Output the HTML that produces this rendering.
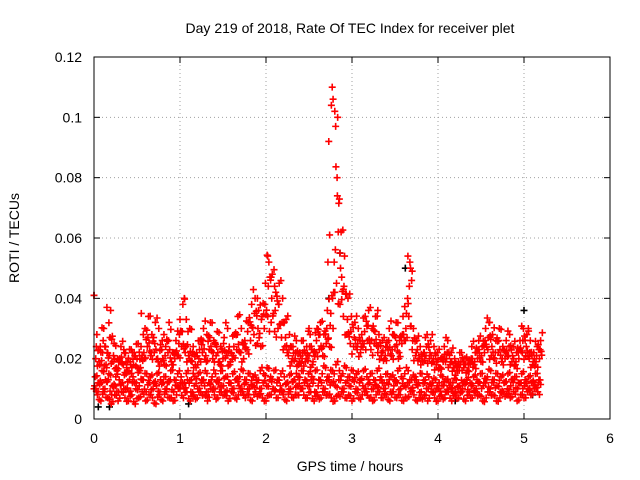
<!DOCTYPE html>
<html><head><meta charset="utf-8"><style>
body{margin:0;background:#fff;}
svg{display:block;font-family:"Liberation Sans",sans-serif;}
</style></head><body>
<svg id="chart" width="640" height="480" viewBox="0 0 640 480">
<rect width="640" height="480" fill="#fff"/>
<text x="350" y="33" font-size="14" text-anchor="middle">Day 219 of 2018, Rate Of TEC Index for receiver plet</text>
<text x="350" y="471" font-size="14" text-anchor="middle">GPS time / hours</text>
<text transform="translate(19,238) rotate(-90)" font-size="14" text-anchor="middle">ROTI / TECUs</text>
<g id="grid"></g><g id="ticks"></g><g id="marks"></g>
<rect x="94" y="57" width="516" height="362" fill="none" stroke="#000" stroke-width="1"/>
</svg>
<script>
const xTicks=[0,1,2,3,4,5,6];
const yTicks=[0,0.02,0.04,0.06,0.08,0.1,0.12];
const yTickLabels=["0","0.02","0.04","0.06","0.08","0.1","0.12"];
const step=0.04;
const lowVals=[.010,.008,.006,.009,.007,.005,.008,.006,.009,.007,.006,.008,.005,.007,.009,.006,.008,.007,.005,.008,.006,.009,.007,.006,.008,.010,.007,.009,.006,.008,.007,.009,.008,.006,.010,.008,.007,.009,.008,.006,.009,.007,.008,.010,.007,.008,.006,.009,.008,.007,.006,.008,.010,.007,.009,.008,.006,.009,.007,.008,.010,.008,.007,.009,.006,.008,.007,.009,.008,.007,.006,.008,.009,.007,.008,.006,.009,.007,.008,.010,.007,.006,.008,.009,.007,.008,.006,.009,.007,.008,.006,.007,.009,.008,.006,.007,.008,.006,.009,.007,.006,.008,.007,.009,.006,.008,.007,.009,.006,.008,.007,.009,.008,.006,.007,.009,.008,.006,.007,.009,.008,.007,.009,.006,.008,.007,.009,.008,.010,.009];
const lowMidVals=[.011,.009,.012,.010,.013,.008,.011,.009,.012,.010,.009,.012,.010,.011,.013,.009,.012,.010,.011,.009,.012,.010,.013,.009,.011,.012,.010,.013,.009,.011,.010,.012,.011,.009,.013,.010,.012,.011,.009,.012,.010,.013,.011,.009,.012,.010,.011,.013,.010,.012,.011,.013,.010,.012,.011,.009,.012,.010,.013,.011,.010,.012,.011,.013,.009,.011,.012,.010,.013,.012,.011,.013,.010,.012,.011,.013,.010,.012,.011,.009,.012,.010,.011,.013,.010,.012,.009,.011,.012,.010,.011,.012,.010,.013,.011,.009,.012,.010,.011,.009,.010,.011,.009,.012,.010,.009,.011,.010,.012,.009,.011,.010,.012,.011,.013,.010,.012,.011,.009,.012,.010,.011,.013,.010,.012,.011,.010,.012,.011,.012];
const midVals=[.014,.012,.016,.013,.015,.011,.014,.013,.012,.015,.013,.014,.012,.016,.013,.015,.014,.012,.015,.013,.014,.012,.016,.013,.015,.014,.012,.016,.013,.014,.015,.013,.016,.012,.014,.015,.013,.016,.014,.012,.015,.013,.014,.016,.013,.015,.014,.012,.016,.015,.017,.014,.016,.013,.015,.014,.012,.015,.013,.014,.016,.013,.015,.014,.016,.013,.015,.017,.014,.016,.018,.016,.015,.017,.014,.016,.015,.013,.016,.014,.015,.013,.016,.014,.012,.015,.014,.013,.016,.014,.015,.016,.013,.014,.012,.015,.013,.014,.012,.013,.012,.014,.013,.011,.012,.013,.011,.012,.013,.012,.014,.013,.015,.012,.014,.016,.013,.015,.014,.012,.015,.013,.014,.012,.015,.013,.014,.012,.015,.013];
const highVals=[.020,.019,.022,.018,.021,.019,.017,.020,.018,.017,.019,.018,.020,.017,.022,.024,.021,.022,.020,.019,.018,.022,.019,.020,.021,.024,.022,.021,.019,.018,.020,.022,.021,.023,.020,.021,.019,.020,.022,.018,.021,.023,.022,.020,.023,.026,.028,.025,.024,.030,.034,.032,.029,.030,.027,.024,.021,.019,.020,.018,.020,.019,.021,.018,.022,.023,.021,.025,.024,.030,.045,.038,.034,.028,.025,.024,.023,.022,.025,.026,.023,.025,.022,.021,.020,.023,.021,.024,.020,.025,.026,.034,.023,.021,.020,.019,.021,.020,.019,.018,.017,.019,.020,.018,.017,.016,.018,.017,.016,.019,.018,.020,.019,.022,.023,.021,.020,.022,.019,.020,.021,.019,.018,.020,.022,.021,.020,.018,.019,.020];
const midHighVals=[.024,.018,.026,.017,.027,.021,.016,.019,.023,.016,.018,.022,.017,.024,.020,.027,.022,.025,.019,.023,.021,.026,.018,.022,.025,.029,.024,.020,.022,.017,.023,.026,.019,.027,.022,.024,.018,.025,.021,.019,.024,.028,.022,.025,.029,.031,.035,.030,.033,.038,.044,.040,.036,.038,.032,.027,.023,.020,.022,.019,.022,.020,.024,.019,.026,.028,.024,.030,.031,.042,.080,.050,.044,.033,.029,.027,.025,.024,.029,.031,.026,.029,.024,.022,.021,.026,.023,.027,.022,.028,.030,.044,.026,.022,.020,.019,.024,.022,.020,.019,.017,.020,.022,.019,.017,.016,.019,.018,.016,.020,.019,.023,.021,.026,.027,.024,.022,.026,.020,.022,.024,.021,.019,.023,.026,.024,.022,.019,.021,.023];
const topVals=[.028,.024,.030,.022,.036,.025,.020,.024,.022,.019,.023,.021,.025,.020,.030,.034,.028,.032,.030,.026,.024,.032,.022,.026,.028,.038,.033,.030,.024,.022,.026,.030,.028,.032,.026,.029,.024,.027,.030,.022,.028,.034,.030,.026,.032,.038,.040,.036,.034,.045,.052,.048,.042,.045,.040,.033,.028,.024,.026,.022,.026,.024,.028,.022,.030,.032,.028,.036,.035,.052,.100,.062,.054,.040,.034,.032,.030,.028,.034,.036,.030,.034,.028,.026,.024,.030,.028,.032,.026,.034,.035,.052,.030,.026,.024,.022,.028,.026,.024,.022,.020,.024,.026,.022,.020,.018,.022,.020,.018,.024,.022,.026,.024,.030,.032,.028,.026,.030,.024,.026,.028,.024,.022,.026,.030,.028,.026,.022,.024,.026];
const spikeT=[2.73,2.76,2.77,2.78,2.80,2.81,2.83,2.84,2.86,2.88,2.90,2.74,2.72,3.65,3.68,3.70,2.02,2.06,0.0,1.05,2.10,2.15,0.15,0.55,1.0,1.9,2.5,3.3,4.6,5.05];
const spikeV=[.092,.104,.110,.106,.102,.097,.074,.062,.055,.047,.043,.061,.052,.054,.050,.049,.054,.047,.041,.040,.044,.038,.037,.035,.033,.040,.030,.036,.032,.030];
const blackT=[0.0,0.05,0.18,1.1,2.73,2.86,3.62,5.0,5.1,4.2];
const blackV=[.041,.004,.004,.005,.040,.055,.050,.036,.008,.006];

const NS="http://www.w3.org/2000/svg";
const X=t=>94+t*(516/6), Y=v=>419-v*(362/0.12);
const grid=document.getElementById('grid'),ticks=document.getElementById('ticks'),marks=document.getElementById('marks');
function mk(tag,attrs,parent){const e=document.createElementNS(NS,tag);for(const k in attrs)e.setAttribute(k,attrs[k]);parent.appendChild(e);return e;}
xTicks.forEach(t=>{
 if(t>0&&t<6){const g=mk('line',{x1:X(t),x2:X(t),y1:57,y2:419,stroke:'#a0a0a0','stroke-dasharray':'1,3'},grid);
 
 }
 const tl=mk('text',{x:X(t),y:443,'font-size':14,'text-anchor':'middle'},ticks);tl.textContent=t;
 
 
 mk('line',{x1:X(t),x2:X(t),y1:419,y2:413,stroke:'#000'},ticks);
 mk('line',{x1:X(t),x2:X(t),y1:57,y2:63,stroke:'#000'},ticks);
});
yTicks.forEach((v,i)=>{
 if(i>0&&i<yTicks.length-1){const g=mk('line',{x1:94,x2:610,y1:Y(v),y2:Y(v),stroke:'#a0a0a0','stroke-dasharray':'1,3'},grid);
 
 }
 const tl=mk('text',{x:82,y:Y(v)+5,'font-size':14,'text-anchor':'end'},ticks);tl.textContent=yTickLabels[i];
 
 
 mk('line',{x1:94,x2:100,y1:Y(v),y2:Y(v),stroke:'#000'},ticks);
 mk('line',{x1:610,x2:604,y1:Y(v),y2:Y(v),stroke:'#000'},ticks);
});
function plus(t,v,color,name){
 const x=X(t),y=Y(v);
 const p=mk('path',{d:`M${x-3.5},${y}H${x+3.5}M${x},${y-3.5}V${y+3.5}`,stroke:color,'stroke-width':1.6,fill:'none'},marks);
 
 
}
blackT.forEach((t,i)=>plus(t,blackV[i],'#000','black-point'));
const seriesList=[lowVals,lowMidVals,midVals,highVals,midHighVals,topVals];
const midFactors=[1.12,0.92,1.1,0.9,1.08,0.88];
seriesList.forEach((arr,k)=>{
 const off=k*step/6;
 arr.forEach((v,i)=>{
  plus(i*step+off,v,'#f00','roti-point');
  const nv=arr[Math.min(i+1,arr.length-1)];
  plus(i*step+off+step/2,(v+nv)/2*midFactors[(k+i)%6],'#f00','roti-point');
 });
});
spikeT.forEach((t,i)=>plus(t,spikeV[i],'#f00','roti-spike-point'));
</script>
</body></html>
